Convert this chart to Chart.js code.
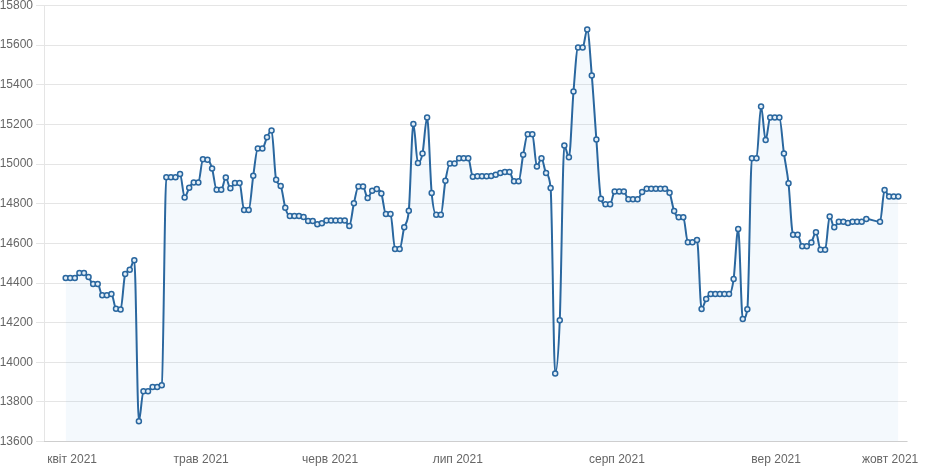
<!DOCTYPE html>
<html>
<head>
<meta charset="utf-8">
<script src="https://cdn.jsdelivr.net/npm/chart.js@4/dist/chart.umd.min.js"></script>
<style>
  html, body { margin: 0; padding: 0; background: #fff; }
  #wrap { width: 940px; height: 470px; }
</style>
</head>
<body>
<div id="wrap"><canvas id="chart"></canvas></div>
<script>
// one value per sample slot, null = missing sample (line spans it)
const prices = [
    14425, 14425, 14425, 14450, 14450, 14430, 14395, 14395, 14338, 14338,
    14345, 14270, 14266, 14445, 14467, 14515, 13703, 13854, 13854, 13876,
    13876, 13884, 14933, 14933, 14933, 14950, 14832, 14880, 14907, 14907,
    15025, 15022, 14978, 14870, 14870, 14932, 14878, 14904, 14904, 14768,
    14768, 14941, 15079, 15079, 15135, 15169, 14921, 14890, 14780, 14738,
    14738, 14738, 14733, 14713, 14713, 14696, 14701, 14716, 14716, 14716,
    14716, 14716, 14688, 14802, 14887, 14887, 14829, 14866, 14874, 14852,
    14748, 14748, 14572, 14572, 14681, 14765, 15202, 15005, 15054, 15235,
    14854, 14745, 14745, 14916, 15003, 15003, 15029, 15029, 15029, 14936,
    14938, 14938, 14938, 14940, 14946, 14955, 14960, 14960, 14913, 14913,
    15047, 15150, 15150, 14988, 15030, 14955, 14879, 13943, 14212, 15094,
    15034, 15366, 15588, 15588, 15679, 15447, 15124, 14825, 14797, 14797,
    14862, 14862, 14862, 14822, 14822, 14822, 14859, 14876, 14876, 14876,
    14876, 14876, 14856, 14763, 14732, 14732, 14606, 14606, 14617, 14269,
    14320, 14344, 14344, 14344, 14344, 14344, 14420, 14673, 14219, 14268,
    15030, 15030, 15291, 15121, 15235, 15235, 15235, 15054, 14903, 14644,
    14644, 14585, 14585, 14605, 14656, 14568, 14568, 14735, 14681, 14709,
    14709, 14703, 14709, 14709, 14709, 14723, null, null, 14709, 14869,
    14837, 14837, 14837
];
const slots = prices.map((_, i) => i);

const monthLabels = ['квіт 2021', 'трав 2021', 'черв 2021', 'лип 2021', 'серп 2021', 'вер 2021', 'жовт 2021'];
// slot position where each month label sits
const monthAt = [1.4, 29.6, 57.8, 85.7, 120.5, 155.3, 180.2];

const yTicks = [13600, 13800, 14000, 14200, 14400, 14600, 14800, 15000, 15200, 15400, 15600, 15800];

Chart.defaults.font.family = 'Arial, "Liberation Sans", sans-serif';
Chart.defaults.font.size = 12;
Chart.defaults.color = '#666';

new Chart(document.getElementById('chart'), {
    type: 'line',
    data: {
        labels: slots,
        datasets: [{
            data: prices,
            borderColor: '#2a679f',
            borderWidth: 2,
            backgroundColor: 'rgba(40,140,220,0.05)',
            fill: 'start',
            cubicInterpolationMode: 'monotone',
            spanGaps: true,
            pointRadius: 2.5,
            pointBorderWidth: 1.5,
            pointBorderColor: '#2a679f',
            pointBackgroundColor: '#e3eef7'
        }]
    },
    options: {
        responsive: true,
        maintainAspectRatio: false,
        animation: false,
        layout: { padding: { right: 33 } },
        plugins: { legend: { display: false }, tooltip: { enabled: false } },
        scales: {
            x: {
                type: 'linear',
                min: -4.74,
                max: 183.9,
                grid: { display: false },
                afterBuildTicks: s => { s.ticks = monthAt.map(v => ({ value: v })); },
                ticks: {
                    autoSkip: false,
                    maxRotation: 0,
                    callback: (v, i) => monthLabels[i]
                }
            },
            y: {
                min: yTicks[0],
                max: yTicks[yTicks.length - 1],
                afterBuildTicks: s => { s.ticks = yTicks.map(v => ({ value: v })); },
                afterFit: s => { s.width = 44; s.paddingTop = 5; },
                grid: { color: 'rgba(0,0,0,0.1)' },
                ticks: { callback: v => String(v) }
            }
        }
    }
});
</script>
</body>
</html>
